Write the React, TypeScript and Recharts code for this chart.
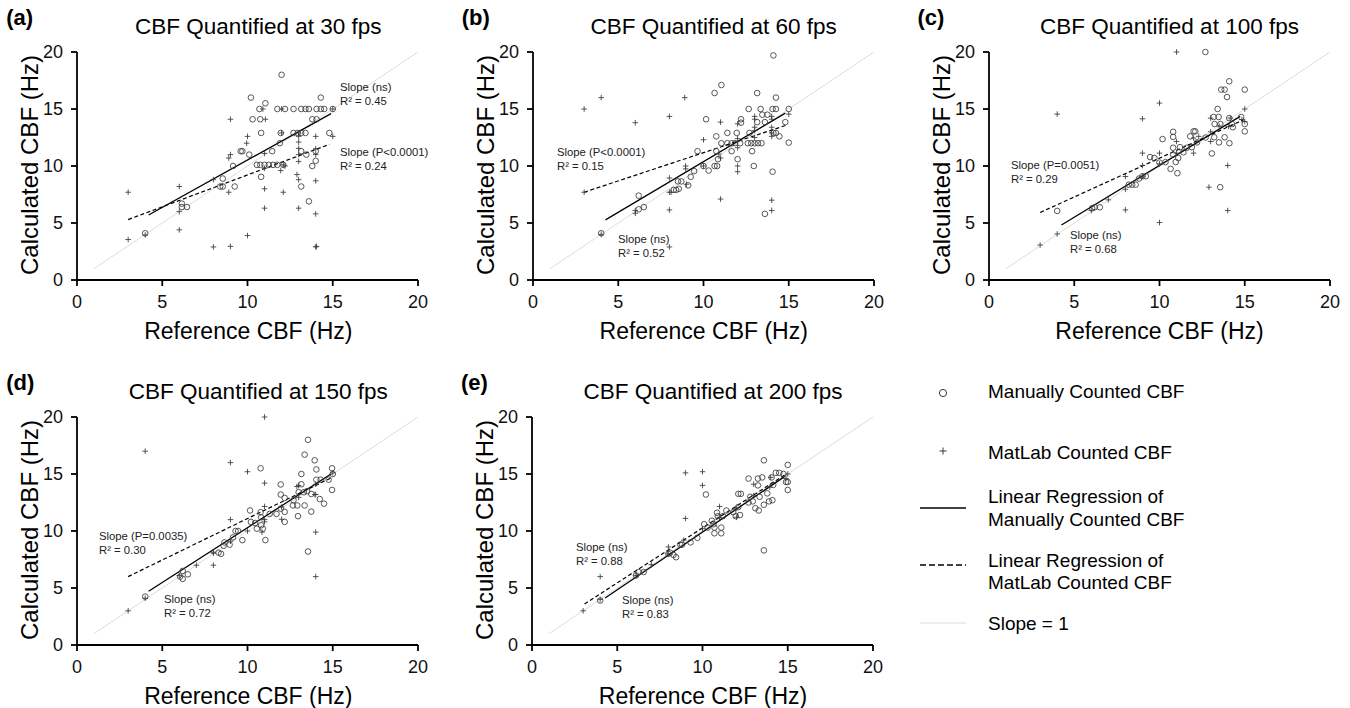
import React from 'react';
import { ScatterChart, Scatter, XAxis, YAxis, ReferenceLine } from 'recharts';

const FONT = '"Liberation Sans", Arial, Helvetica, sans-serif';

type Pt = [number, number];

const axisTicks = [0, 5, 10, 15, 20];
const identityLine: Pt[] = [[1, 1], [20, 20]];

// Panel (a) 30 fps
const aManual: Pt[] = [[4,4.1],[6.15,6.7],[6.15,6.4],[6.45,6.4],[8.4,8.2],[8.55,8.2],[9.25,8.2],[8.55,8.9],[9.15,10.0],[9.6,11.3],[9.7,11.3],[10.1,11.0],[10.2,16.0],[10.3,14.1],[10.75,14.1],[10.7,15.0],[11.05,15.5],[10.8,12.9],[10.8,9.05],[10.55,10.1],[10.75,10.1],[11.0,10.1],[11.25,10.1],[11.5,10.1],[11.75,10.1],[12.1,10.1],[11.45,11.3],[11.9,12.0],[12.0,18.0],[11.75,15.0],[12.2,15.0],[12.7,15.0],[13.15,15.0],[13.4,15.0],[13.6,15.0],[14.05,15.0],[14.3,15.0],[14.5,15.0],[15.0,15.0],[14.3,16.0],[13.8,14.1],[14.05,14.1],[11.95,12.9],[12.7,12.9],[12.95,12.9],[13.15,12.9],[13.4,12.9],[14.8,12.9],[13.15,11.3],[13.45,11.0],[14.0,11.3],[14.0,10.45],[13.8,10.0],[13.15,8.2],[13.6,6.9]];
const aMatlab: Pt[] = [[3,7.7],[3,3.55],[4,3.95],[6,8.2],[6,6.0],[6,4.4],[8,8.8],[8,2.9],[9,2.95],[8.9,7.7],[8.9,10.7],[9,11.0],[9,14.1],[10,12.6],[9.95,12.0],[10,3.9],[10.9,15.0],[11.05,14.1],[11,11.1],[11,9.8],[11,8.0],[11,6.3],[12,15.0],[12,12.9],[12.1,10.1],[11.95,9.6],[12.1,7.7],[13,12.6],[13,12.1],[13,11.55],[13,11.0],[13,10.4],[12.9,9.25],[13,8.8],[13,6.3],[13,12.9],[14,12.6],[14,11.5],[14,11.0],[14,8.7],[14,5.8],[14,2.9],[14.05,2.95],[15,12.6],[15,15.0],[12.2,10.0]];
const aFitManual: Pt[] = [[4.2,5.7],[14.9,14.6]];
const aFitMatlab: Pt[] = [[3,5.3],[14.8,11.9]];

// Panel (b) 60 fps
const bManual: Pt[] = [[4.0,4.1],[6.2,7.4],[6.2,6.2],[6.5,6.4],[8.25,7.9],[8.4,7.9],[8.55,8.0],[8.5,8.65],[8.7,8.65],[9.1,8.3],[9.25,9.05],[9.45,9.55],[9.65,11.3],[10.0,10.0],[10.3,9.6],[10.15,14.1],[10.65,10.0],[10.8,10.0],[10.75,12.6],[10.65,16.4],[11.05,17.1],[10.85,10.6],[10.75,11.3],[11.05,12.0],[11.4,12.0],[11.65,12.0],[11.85,12.0],[12.15,12.0],[11.4,12.9],[11.65,11.3],[12.0,10.6],[11.95,12.9],[12.2,14.1],[12.2,13.8],[12.65,15.0],[12.7,12.9],[12.6,12.0],[12.8,12.0],[13.0,12.0],[13.2,12.0],[13.4,12.0],[12.85,11.3],[12.95,10.0],[13.15,16.4],[13.15,13.85],[13.6,13.85],[13.35,15.0],[13.45,14.5],[13.75,14.5],[13.6,5.8],[14.05,15.0],[14.25,15.0],[14.25,16.0],[14.1,19.7],[14.1,12.9],[14.25,12.9],[14.45,12.6],[14.05,9.5],[14.8,13.85],[15.0,15.0],[15.0,12.05]];
const bMatlab: Pt[] = [[3,15.0],[3,7.7],[4,16.0],[4,4.0],[6,13.8],[6,6.1],[6,5.85],[8,14.35],[8,8.95],[8,7.7],[8,6.15],[8,2.9],[8.1,7.7],[8.9,16.0],[8.95,10.0],[8.95,9.75],[9.0,8.4],[10,12.3],[10,10.0],[10.9,11.05],[11,10.7],[11,13.85],[11,7.1],[12,13.7],[12,12.4],[12,11.6],[12,10.0],[12,9.5],[13,14.35],[13,14.1],[13,13.4],[13,13.1],[13,12.5],[14,14.35],[14,14.1],[14,13.4],[14,12.9],[14,12.6],[14,7.0],[14,6.1],[15,14.55]];
const bFitManual: Pt[] = [[4.25,5.27],[14.8,14.64]];
const bFitMatlab: Pt[] = [[3,7.7],[14.9,13.6]];

// Panel (c) 100 fps
const cManual: Pt[] = [[4.0,6.06],[6.05,6.3],[6.2,6.38],[6.5,6.38],[8.2,8.36],[8.4,8.36],[8.6,8.36],[8.8,8.9],[9.0,9.1],[9.2,9.1],[9.45,10.78],[9.7,10.7],[10.0,10.3],[10.18,12.36],[10.35,10.34],[10.65,9.75],[10.8,13.0],[10.8,12.55],[10.8,11.6],[10.8,11.0],[10.95,10.35],[11.05,9.37],[11.1,10.7],[11.2,11.65],[11.4,11.2],[11.6,11.6],[11.8,12.6],[11.9,11.65],[12.0,13.04],[12.1,13.04],[12.2,12.07],[12.69,20.0],[12.7,12.5],[13.07,11.1],[13.17,14.3],[13.47,14.3],[13.23,13.68],[13.57,13.68],[13.41,15.0],[13.21,12.52],[13.49,12.07],[13.56,8.14],[13.62,16.7],[13.82,16.7],[13.82,12.52],[13.96,16.05],[14.09,17.43],[14.1,12.0],[14.09,14.2],[14.25,13.68],[14.3,13.4],[14.79,14.3],[15.0,16.7],[15.0,13.68],[15.0,13.04]];
const cMatlab: Pt[] = [[3,3.07],[4,4.04],[4,14.55],[6,6.09],[7,7.03],[8,6.15],[8,7.96],[8,9.08],[9,11.13],[9,14.14],[9,10.04],[9,9.1],[10,15.52],[10,5.04],[10,11.13],[10,10.19],[11,20.0],[11,12.15],[11,11.13],[12,11.13],[12,12.45],[12.9,8.14],[13,14.2],[13,13.0],[13,12.15],[14,10.04],[14,6.09],[14.05,13.47],[14.15,14.2],[14.83,14.06],[15,15.0],[15,13.9],[12.3,12.6],[13.5,13.5]];
const cFitManual: Pt[] = [[4.25,4.83],[14.73,14.35]];
const cFitMatlab: Pt[] = [[3,5.92],[14.93,14.05]];

// Panel (d) 150 fps
const dManual: Pt[] = [[4.0,4.25],[6.05,6.0],[6.2,6.5],[6.2,5.8],[6.5,6.2],[8.3,8.1],[8.45,8.0],[8.6,8.7],[8.65,9.0],[8.95,8.8],[9.15,9.44],[9.3,10.0],[9.45,10.0],[9.7,9.2],[10.15,11.8],[10.2,10.8],[10.45,10.7],[10.55,10.2],[10.8,10.5],[10.77,15.5],[10.77,11.65],[10.8,11.2],[10.9,10.2],[11.05,9.2],[11.3,11.5],[11.7,11.5],[11.95,11.96],[11.95,14.08],[11.95,13.2],[12.18,12.9],[12.18,11.68],[12.18,10.8],[12.66,12.24],[12.7,12.7],[12.92,12.24],[12.96,11.3],[13.0,13.4],[13.16,15.0],[13.16,14.1],[13.3,13.4],[13.35,12.24],[13.35,16.7],[13.5,13.5],[13.55,18.0],[13.55,8.2],[13.74,11.7],[13.74,13.25],[13.94,16.2],[14.04,15.4],[14.04,14.5],[14.24,12.8],[14.29,14.5],[14.49,12.4],[14.76,14.5],[14.96,15.5],[14.96,13.6],[15.0,15.0]];
const dMatlab: Pt[] = [[3,3.0],[4,17.0],[4,4.1],[6,6.09],[7,7.0],[8,7.0],[8,8.05],[8,8.14],[9,16.0],[9,11.0],[9,9.1],[10,15.2],[10,10.0],[11,20.0],[11,14.2],[11,12.15],[11,11.0],[11,10.8],[10.85,9.9],[12,12.1],[12,11.03],[13,14.0],[13,12.95],[12.9,13.9],[14,14.1],[14,13.2],[14,9.9],[14,6.0],[15,15.1],[13.95,13.2]];
const dFitManual: Pt[] = [[4.2,4.71],[14.92,15.02]];
const dFitMatlab: Pt[] = [[3,6.0],[15,14.73]];

// Panel (e) 200 fps
const eManual: Pt[] = [[4.0,3.9],[6.1,6.1],[6.25,6.4],[6.55,6.4],[8.0,8.0],[8.1,8.1],[8.3,7.9],[8.45,7.7],[8.7,8.8],[8.8,8.8],[9.3,9.0],[9.7,9.4],[10.1,10.6],[10.3,10.3],[10.55,10.9],[10.65,10.6],[10.7,10.3],[10.85,11.6],[10.9,11.3],[10.7,9.8],[11.1,9.8],[11.1,10.3],[11.2,11.3],[10.2,13.2],[11.4,11.8],[11.8,11.65],[11.95,11.3],[12.1,12.1],[12.1,13.26],[12.25,13.26],[12.2,11.4],[12.7,14.6],[12.7,12.5],[12.8,13.0],[12.95,12.6],[13.1,12.0],[13.25,14.6],[13.25,14.0],[13.3,11.8],[13.35,13.0],[13.5,14.7],[13.6,16.2],[13.6,8.3],[13.6,12.3],[13.8,13.3],[13.9,12.6],[14.05,14.7],[14.1,12.7],[14.15,14.05],[14.3,15.1],[14.5,15.1],[14.75,15.0],[14.9,14.3],[15.0,15.8],[15.0,14.3],[15.0,13.6]];
const eMatlab: Pt[] = [[3,3.0],[4,6.0],[4,4.0],[6.1,6.1],[7,7.05],[8,8.6],[8,8.0],[8.9,9.2],[9,15.1],[9,11.1],[10,15.2],[10,14.0],[10,10.2],[11,12.15],[11,11.2],[12,12.0],[12,11.2],[13,14.1],[13,13.1],[13.95,13.85],[14,14.7],[14.9,14.6],[15,15.0]];
const eFitManual: Pt[] = [[4.29,4.13],[14.83,14.79]];
const eFitMatlab: Pt[] = [[3.08,3.6],[14.93,15.02]];

const panelLetters = ['(a)', '(b)', '(c)', '(d)', '(e)'];
const panelTitles = [
  'CBF Quantified at 30 fps',
  'CBF Quantified at 60 fps',
  'CBF Quantified at 100 fps',
  'CBF Quantified at 150 fps',
  'CBF Quantified at 200 fps',
];
const xLabel = 'Reference CBF (Hz)';
const yLabel = 'Calculated CBF (Hz)';
const legendLabels = [
  ['Manually Counted CBF'],
  ['MatLab Counted CBF'],
  ['Linear Regression of', 'Manually Counted CBF'],
  ['Linear Regression of', 'MatLab Counted CBF'],
  ['Slope = 1'],
];
const annotations: [string, string][][] = [
  [['Slope (ns)', 'R\u00B2 = 0.45'], ['Slope (P<0.0001)', 'R\u00B2 = 0.24']],
  [['Slope (P<0.0001)', 'R\u00B2 = 0.15'], ['Slope (ns)', 'R\u00B2 = 0.52']],
  [['Slope (P=0.0051)', 'R\u00B2 = 0.29'], ['Slope (ns)', 'R\u00B2 = 0.68']],
  [['Slope (P=0.0035)', 'R\u00B2 = 0.30'], ['Slope (ns)', 'R\u00B2 = 0.72']],
  [['Slope (ns)', 'R\u00B2 = 0.88'], ['Slope (ns)', 'R\u00B2 = 0.83']],
];
// annotation anchor (left x, first line center y) in page px
const annotationPos: [number, number][][] = [
  [[340, 87], [340, 152]],
  [[557, 152], [618, 239]],
  [[1011, 165], [1070, 235]],
  [[99, 536], [164, 599]],
  [[576, 547], [622, 600]],
];

const MARK = '#3a3a3a';

const CircleShape = (props: any) => {
  const { cx, cy } = props;
  if (cx == null || cy == null) return <g />;
  return <circle cx={cx} cy={cy} r={2.8} fill="none" stroke={MARK} strokeWidth={0.85} />;
};

const PlusShape = (props: any) => {
  const { cx, cy } = props;
  if (cx == null || cy == null) return <g />;
  const s = 2.8;
  return (
    <path
      d={`M${cx - s},${cy}L${cx + s},${cy}M${cx},${cy - s}L${cx},${cy + s}`}
      stroke={MARK}
      strokeWidth={0.85}
      fill="none"
    />
  );
};

const toObj = (arr: Pt[]) => arr.map(([x, y]) => ({ x, y }));
const seg = (arr: Pt[]) => arr.map(([x, y]) => ({ x, y })) as any;

type PanelProps = {
  idx: number;
  plotLeft: number;
  plotTop: number;
  manual: Pt[];
  matlab: Pt[];
  fitManual: Pt[];
  fitMatlab: Pt[];
};

const CH_W = 440;
const CH_H = 345;
const Y_W = 77;
const M_TOP = 52;

function Panel({ idx, plotLeft, plotTop, manual, matlab, fitManual, fitMatlab }: PanelProps) {
  const left = plotLeft - Y_W;
  const top = plotTop - M_TOP;
  const plotW = 341;
  const plotH = 228;
  return (
    <>
      <div style={{ position: 'absolute', left, top, width: CH_W, height: CH_H }}>
        <ScatterChart
          width={CH_W}
          height={CH_H}
          margin={{ top: M_TOP, right: CH_W - Y_W - plotW, bottom: CH_H - M_TOP - plotH - 30, left: 0 }}
        >
          <XAxis
            type="number"
            dataKey="x"
            domain={[0, 20]}
            ticks={axisTicks}
            height={30}
            tickSize={6}
            tickMargin={9}
            axisLine={{ stroke: '#000', strokeWidth: 1.8 }}
            tickLine={{ stroke: '#000', strokeWidth: 1.8 }}
            tick={{ fontSize: 18, fill: '#111', fontFamily: FONT }}
          />
          <YAxis
            type="number"
            dataKey="y"
            domain={[0, 20]}
            ticks={axisTicks}
            width={Y_W}
            tickSize={6}
            tickMargin={8}
            axisLine={{ stroke: '#000', strokeWidth: 1.8 }}
            tickLine={{ stroke: '#000', strokeWidth: 1.8 }}
            tick={{ fontSize: 18, fill: '#111', fontFamily: FONT }}
          />
          <ReferenceLine segment={seg(identityLine)} stroke="#dcdcdc" strokeWidth={1} ifOverflow="visible" />
          <Scatter data={toObj(manual)} shape={CircleShape} isAnimationActive={false} />
          <Scatter data={toObj(matlab)} shape={PlusShape} isAnimationActive={false} />
          <ReferenceLine segment={seg(fitManual)} stroke="#000" strokeWidth={1.3} ifOverflow="visible" />
          <ReferenceLine
            segment={seg(fitMatlab)}
            stroke="#000"
            strokeWidth={1.2}
            strokeDasharray="4 2.5"
            ifOverflow="visible"
          />
        </ScatterChart>
      </div>
      {/* panel letter */}
      <div
        style={{
          position: 'absolute',
          left: plotLeft - 71,
          top: plotTop - 46,
          fontFamily: FONT,
          fontWeight: 'bold',
          fontSize: 22,
          lineHeight: '24px',
          color: '#000',
          whiteSpace: 'nowrap',
        }}
      >
        {panelLetters[idx]}
      </div>
      {/* title */}
      <div
        style={{
          position: 'absolute',
          left: plotLeft + 181 - 200,
          width: 400,
          top: plotTop - 38,
          textAlign: 'center',
          fontFamily: FONT,
          fontSize: 22.5,
          lineHeight: '26px',
          color: '#000',
          whiteSpace: 'nowrap',
        }}
      >
        {panelTitles[idx]}
      </div>
      {/* y label */}
      <div
        style={{
          position: 'absolute',
          left: plotLeft - 47 - 150,
          top: plotTop + 113 - 14,
          width: 300,
          height: 28,
          textAlign: 'center',
          transform: 'rotate(-90deg)',
          fontFamily: FONT,
          fontSize: 24,
          lineHeight: '28px',
          color: '#000',
          whiteSpace: 'nowrap',
        }}
      >
        {yLabel}
      </div>
      {/* x label */}
      <div
        style={{
          position: 'absolute',
          left: plotLeft + 171 - 150,
          width: 300,
          top: plotTop + 228 + 51 - 12,
          textAlign: 'center',
          fontFamily: FONT,
          fontSize: 23,
          lineHeight: '24px',
          color: '#000',
          whiteSpace: 'nowrap',
        }}
      >
        {xLabel}
      </div>
      {annotations[idx].map((lines, k) => (
        <div
          key={k}
          style={{
            position: 'absolute',
            left: annotationPos[idx][k][0],
            top: annotationPos[idx][k][1] - 7,
            fontFamily: FONT,
            fontSize: 11.3,
            lineHeight: '14px',
            color: '#222',
            whiteSpace: 'nowrap',
          }}
        >
          <div>{lines[0]}</div>
          <div>{lines[1]}</div>
        </div>
      ))}
    </>
  );
}

function Legend() {
  const items = [
    { y: 393, textY: [392] },
    { y: 451, textY: [453] },
    { y: 508, textY: [497, 520] },
    { y: 565, textY: [561, 583] },
    { y: 623, textY: [624] },
  ];
  return (
    <>
      <svg style={{ position: 'absolute', left: 0, top: 0 }} width={1350} height={708}>
        <circle cx={943} cy={items[0].y} r={3.6} fill="none" stroke={MARK} strokeWidth={1} />
        <path d={`M939.5,${items[1].y}L946.5,${items[1].y}M943,${items[1].y - 3.5}L943,${items[1].y + 3.5}`} stroke={MARK} strokeWidth={1} />
        <line x1={920} x2={966} y1={items[2].y} y2={items[2].y} stroke="#000" strokeWidth={1.6} />
        <line x1={920} x2={966} y1={items[3].y} y2={items[3].y} stroke="#000" strokeWidth={1.6} strokeDasharray="6 3" />
        <line x1={920} x2={966} y1={items[4].y} y2={items[4].y} stroke="#dcdcdc" strokeWidth={1.2} />
      </svg>
      {legendLabels.map((lines, i) =>
        lines.map((t, j) => (
          <div
            key={`${i}-${j}`}
            style={{
              position: 'absolute',
              left: 988,
              top: items[i].textY[j] - 12,
              fontFamily: FONT,
              fontSize: 19,
              lineHeight: '24px',
              color: '#000',
              whiteSpace: 'nowrap',
            }}
          >
            {t}
          </div>
        ))
      )}
    </>
  );
}

export default function App() {
  return (
    <div
      style={{
        position: 'absolute',
        left: 0,
        top: 0,
        width: 1350,
        height: 708,
        background: '#fff',
        overflow: 'hidden',
      }}
    >
      <Panel idx={0} plotLeft={77.3} plotTop={52.3} manual={aManual} matlab={aMatlab} fitManual={aFitManual} fitMatlab={aFitMatlab} />
      <Panel idx={1} plotLeft={532.7} plotTop={52.3} manual={bManual} matlab={bMatlab} fitManual={bFitManual} fitMatlab={bFitMatlab} />
      <Panel idx={2} plotLeft={988.5} plotTop={52.3} manual={cManual} matlab={cMatlab} fitManual={cFitManual} fitMatlab={cFitMatlab} />
      <Panel idx={3} plotLeft={77.3} plotTop={416.7} manual={dManual} matlab={dMatlab} fitManual={dFitManual} fitMatlab={dFitMatlab} />
      <Panel idx={4} plotLeft={532} plotTop={416.7} manual={eManual} matlab={eMatlab} fitManual={eFitManual} fitMatlab={eFitMatlab} />
      <Legend />
    </div>
  );
}
